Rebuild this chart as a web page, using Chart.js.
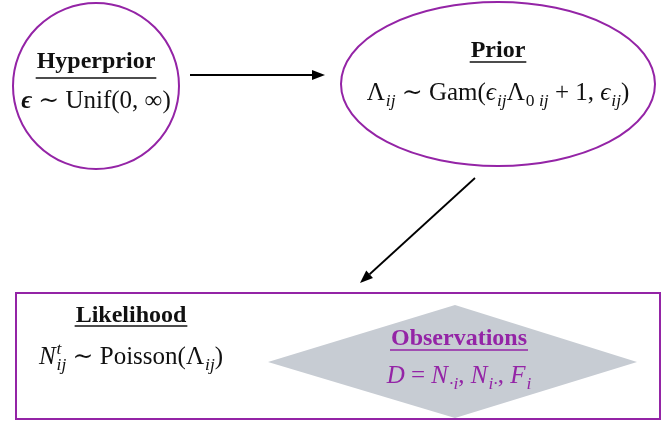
<!DOCTYPE html>
<html>
<head>
<meta charset="utf-8">
<script src="https://cdn.jsdelivr.net/npm/chart.js@4.4.1/dist/chart.umd.min.js"></script>
<style>
  html, body { margin: 0; padding: 0; background: #fff; }
  #wrap { width: 665px; height: 423px; }
</style>
</head>
<body>
<div id="wrap"><canvas id="diagrama"></canvas></div>
<script>
// nodos del diagrama (coordenadas en unidades de datos)
const nodeNames = ['Hyperprior', 'Prior', 'Likelihood', 'Observations'];
const nodeX = [96, 498, 131, 459];
const nodeY = [86, 84, 356, 362];
// formulas: trozos [texto, estilo, subindice, superindice]
const nodeFormulas = [
    [['ϵ', 'bi'], [' ∼ Unif(0, ∞)', 'n']],
    [['Λ', 'n', 'ij'], [' ∼ Gam(', 'n'], ['ϵ', 'i', 'ij'], ['Λ', 'n', '0 ij'], [' + 1, ', 'n'], ['ϵ', 'i', 'ij'], [')', 'n']],
    [['N', 'i', 'ij', 't'], [' ∼ Poisson(', 'n'], ['Λ', 'n', 'ij'], [')', 'n']],
    [['D', 'i'], [' = ', 'n'], ['N', 'i', '·i'], [', ', 'n'], ['N', 'i', 'i·'], [', ', 'n'], ['F', 'i', 'i']]
];
// flechas: desde (x0,y0) hasta (x1,y1)
const arrowFromX = [190, 475];
const arrowFromY = [75, 178];
const arrowToX = [325, 360];
const arrowToY = [75, 283];

const morado = '#9424a6';
const serif = '"Liberation Serif", "DejaVu Serif", serif';

function fontOf(style, size) {
    const w = style.indexOf('b') >= 0 ? 'bold ' : '';
    const it = style.indexOf('i') >= 0 ? 'italic ' : '';
    return it + w + size + 'px ' + serif;
}

// dibuja (o solo mide si draw=false) una formula, devuelve ancho
function runFormula(ctx, parts, x0, cy, size, draw) {
    let x = x0;
    const ss = size * 0.7;
    parts.forEach(p => {
        ctx.font = fontOf(p[1], size);
        if (draw) ctx.fillText(p[0], x, cy);
        x += ctx.measureText(p[0]).width;
        let s = 0;
        if (p[2]) {
            let sx = x + 1;
            const txt = p[2];
            const trozos = /^[0-9]/.test(txt) ? [[txt[0], 'n'], [txt.slice(1), 'i']] : [[txt, 'i']];
            trozos.forEach(t => {
                ctx.font = fontOf(t[1], ss);
                if (draw) ctx.fillText(t[0], sx, cy + size * 0.22);
                sx += ctx.measureText(t[0]).width;
            });
            s = Math.max(s, sx - x);
        }
        if (p[3]) {
            ctx.font = fontOf('i', ss);
            if (draw) ctx.fillText(p[3], x + 1, cy - size * 0.42);
            s = Math.max(s, ctx.measureText(p[3]).width + 1);
        }
        x += s;
    });
    return x - x0;
}

function drawFormula(ctx, parts, cx, cy, size, color) {
    ctx.fillStyle = color;
    ctx.textBaseline = 'alphabetic';
    ctx.textAlign = 'left';
    const w = runFormula(ctx, parts, 0, cy, size, false);
    runFormula(ctx, parts, cx - w / 2, cy, size, true);
}

function drawTitle(ctx, text, cx, cy, size, color, uOff) {
    ctx.font = fontOf('b', size);
    ctx.fillStyle = color;
    ctx.textAlign = 'center';
    ctx.textBaseline = 'alphabetic';
    ctx.fillText(text, cx, cy);
    const w = ctx.measureText(text).width;
    ctx.strokeStyle = color;
    ctx.lineWidth = 1.5;
    ctx.beginPath();
    ctx.moveTo(cx - w / 2 - 1, cy + uOff);
    ctx.lineTo(cx + w / 2 + 1, cy + uOff);
    ctx.stroke();
}

function drawArrow(ctx, x0, y0, x1, y1) {
    const a = Math.atan2(y1 - y0, x1 - x0);
    const L = 13, W = 5;
    ctx.strokeStyle = '#000';
    ctx.fillStyle = '#000';
    ctx.lineWidth = 1.8;
    ctx.beginPath();
    ctx.moveTo(x0, y0);
    ctx.lineTo(x1 - L * Math.cos(a), y1 - L * Math.sin(a));
    ctx.stroke();
    ctx.beginPath();
    ctx.moveTo(x1, y1);
    ctx.lineTo(x1 - L * Math.cos(a) - W * Math.sin(a), y1 - L * Math.sin(a) + W * Math.cos(a));
    ctx.lineTo(x1 - L * Math.cos(a) + W * Math.sin(a), y1 - L * Math.sin(a) - W * Math.cos(a));
    ctx.closePath();
    ctx.fill();
}

const diagramaPlugin = {
    id: 'diagrama',
    afterDatasetsDraw(chart) {
        const ctx = chart.ctx;
        const sx = chart.scales.x, sy = chart.scales.y;
        const px = v => sx.getPixelForValue(v);
        const py = v => sy.getPixelForValue(v);
        ctx.save();

        // caja de verosimilitud
        ctx.strokeStyle = morado;
        ctx.lineWidth = 2;
        ctx.strokeRect(px(16), py(293), px(660) - px(16), py(419) - py(293));

        // rombo de observaciones
        ctx.fillStyle = '#c7ccd3';
        ctx.beginPath();
        ctx.moveTo(px(268), py(362));
        ctx.lineTo(px(455), py(305));
        ctx.lineTo(px(637), py(362));
        ctx.lineTo(px(455), py(418));
        ctx.closePath();
        ctx.fill();

        // circulo hiperprior
        ctx.strokeStyle = morado;
        ctx.lineWidth = 2;
        ctx.beginPath();
        ctx.arc(px(nodeX[0]), py(nodeY[0]), 83, 0, Math.PI * 2);
        ctx.stroke();

        // elipse prior
        ctx.beginPath();
        ctx.ellipse(px(nodeX[1]), py(nodeY[1]), 157, 82, 0, 0, Math.PI * 2);
        ctx.stroke();

        // flechas
        arrowFromX.forEach((x0, i) => {
            drawArrow(ctx, px(x0), py(arrowFromY[i]), px(arrowToX[i]), py(arrowToY[i]));
        });

        // textos
        const colores = ['#111', '#111', '#111', morado];
        const titleDy = [-18, -27, -34, -17];
        const underDy = [10, 5, 4, 5];
        const formDy = [22, 16, 8, 21];
        nodeNames.forEach((n, i) => {
            drawTitle(ctx, n, px(nodeX[i]), py(nodeY[i]) + titleDy[i], 24, colores[i], underDy[i]);
            drawFormula(ctx, nodeFormulas[i], px(nodeX[i]), py(nodeY[i]) + formDy[i], 25, colores[i]);
        });
        ctx.restore();
    }
};

new Chart(document.getElementById('diagrama'), {
    type: 'scatter',
    data: {
        labels: nodeNames,
        datasets: [{
            data: nodeX.map((x, i) => ({ x: x, y: nodeY[i] })),
            pointRadius: 0
        }]
    },
    options: {
        responsive: true,
        maintainAspectRatio: false,
        animation: false,
        layout: { padding: 0 },
        scales: {
            x: { type: 'linear', min: 0, max: 665, display: false },
            y: { type: 'linear', min: 0, max: 423, reverse: true, display: false }
        },
        plugins: {
            legend: { display: false },
            tooltip: { enabled: false }
        }
    },
    plugins: [diagramaPlugin]
});
</script>
</body>
</html>
